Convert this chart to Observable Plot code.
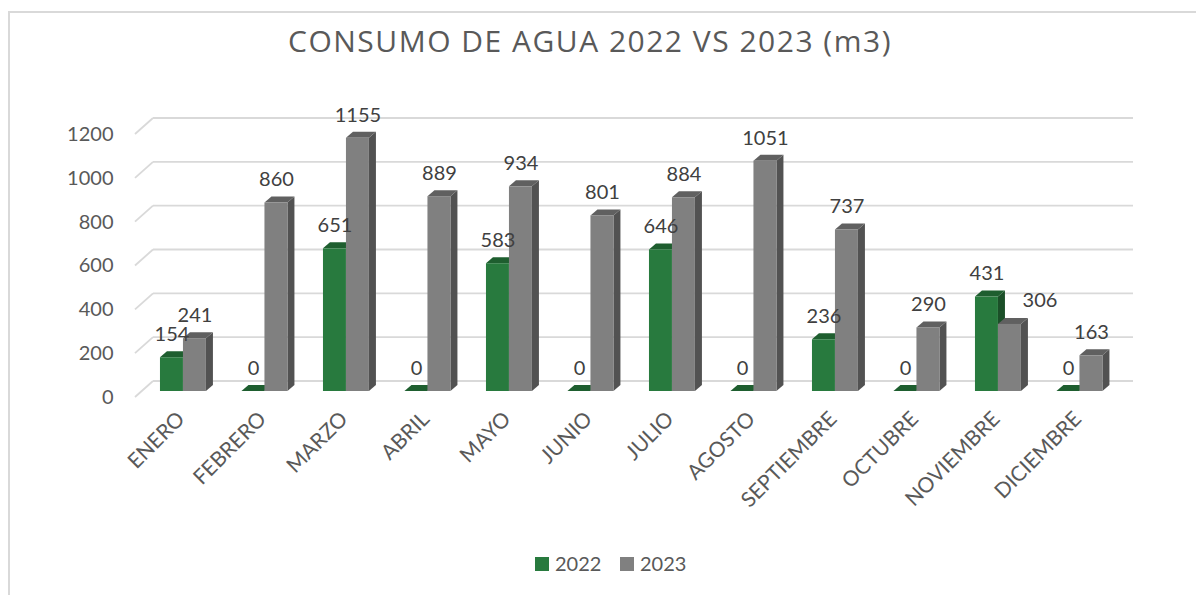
<!DOCTYPE html>
<html>
<head>
<meta charset="utf-8">
<script src="https://cdn.jsdelivr.net/npm/d3@7"></script>
<script src="https://cdn.jsdelivr.net/npm/@observablehq/plot@0.6"></script>
<style>
  body { margin: 0; background: #fff; font-family: Lato, "Open Sans", sans-serif; }
  #frame { position: absolute; left: 8px; top: 11px; width: 1300px; height: 700px;
           border-left: 2px solid #d9d9d9; border-top: 2px solid #d9d9d9; }
  #title { position: absolute; left: 0; width: 1180px; top: 20px; text-align: center;
           font-family: "Open Sans", sans-serif; font-size: 30px; letter-spacing: 1.5px;
           color: #595959; white-space: nowrap; }
  #chart { position: absolute; left: 0; top: 70px; }
  .leg { position: absolute; top: 550px; font-size: 20px; color: #595959; line-height: 26px; }
  .sw { position: absolute; width: 14px; height: 14px; top: 557px; }
</style>
</head>
<body>
<div id="frame"></div>
<div id="title">CONSUMO DE AGUA 2022 VS 2023 (m3)</div>
<div id="chart"></div>
<div class="sw" style="left:535px;background:#287a3e"></div>
<div class="leg" style="left:555px">2022</div>
<div class="sw" style="left:620px;background:#808080"></div>
<div class="leg" style="left:640px">2023</div>
<script>
const months = ["ENERO","FEBRERO","MARZO","ABRIL","MAYO","JUNIO","JULIO","AGOSTO","SEPTIEMBRE","OCTUBRE","NOVIEMBRE","DICIEMBRE"];
const years = ["2022","2023"];
const v2022 = [154,0,651,0,583,0,646,0,236,0,431,0];
const v2023 = [241,860,1155,889,934,801,884,1051,737,290,306,163];
const yTicks = [0,200,400,600,800,1000,1200];

const data = [];
months.forEach((m, i) => {
  data.push({month: m, year: "2022", value: v2022[i], other: v2023[i]});
  data.push({month: m, year: "2023", value: v2023[i], other: v2022[i]});
});

const faces = {
  "2022": {front: "#287a3e", top: "#1e5e2f", side: "#1b4f28"},
  "2023": {front: "#808080", top: "#606060", side: "#525252"}
};
const W = 1196, H = 460;
const mL = 140, mR = 78, mT = 58, mB = 139;
const bw = (W - mL - mR) / months.length;   // band width
const barOff = {"2022": bw * 0.245, "2023": bw * 0.245 + bw * 0.282};
const barW = bw * 0.282;
const depthX = 7, depthY = -6;

function grid(index, scales, values, dim) {
  const y = scales.y;
  const g = d3.create("svg:g").attr("stroke", "#d9d9d9").attr("stroke-width", 1.8).attr("fill", "none");
  const x0 = dim.marginLeft, x1 = dim.width - dim.marginRight;
  for (const t of yTicks) {
    const yy = y(t);
    g.append("line").attr("x1", x0 - 5).attr("y1", yy + 6).attr("x2", x0 + 13).attr("y2", yy - 10);
    g.append("line").attr("x1", x0 + 13).attr("y1", yy - 10).attr("x2", x1 + 15).attr("y2", yy - 10);
  }
  return g.node();
}

function bars3d(index, scales) {
  const x = scales.x, y = scales.y;
  const g = d3.create("svg:g");
  for (const d of data) {
    const a = x(d.month) + barOff[d.year];
    const b = a + barW;
    const yt = y(d.value), yb = y(0);
    const c = faces[d.year];
    g.append("polygon")
      .attr("points", [[b, yb], [b + depthX, yb + depthY], [b + depthX, yt + depthY], [b, yt]].join(" "))
      .attr("fill", c.side);
    g.append("polygon")
      .attr("points", [[a, yt], [a + depthX, yt + depthY], [b + depthX, yt + depthY], [b, yt]].join(" "))
      .attr("fill", c.top);
    g.append("rect").attr("x", a).attr("y", yt).attr("width", b - a).attr("height", Math.max(0, yb - yt))
      .attr("fill", c.front);
  }
  return g.node();
}

const labelDx = y => barOff[y] + barW / 2 - bw / 2;
// Excel nudges a 2023 label to the right when the 2022 bar in front of it is taller
const blocked = d => d.year === "2023" && d.other > d.value;

const chart = Plot.plot({
  width: W, height: H,
  marginLeft: mL, marginRight: mR, marginTop: mT, marginBottom: mB,
  style: {fontFamily: "Lato, 'Open Sans', sans-serif", fontSize: "20px", color: "#595959", background: "transparent"},
  x: {type: "band", domain: months, padding: 0, round: false},
  y: {domain: [0, 1200]},
  marks: [
    grid,
    bars3d,
    Plot.axisY({ticks: yTicks, tickFormat: d => String(d), tickSize: 0, tickPadding: 27, dy: 6, label: null}),
    Plot.axisX({tickRotate: -45, tickSize: 0, tickPadding: 24, fontSize: 21, label: null}),
    ...years.map(yr => Plot.text(data.filter(d => d.year === yr && !blocked(d)), {
      x: "month", y: "value", text: d => String(d.value),
      dx: labelDx(yr), dy: -23, fill: "#404040", fontSize: 20
    })),
    Plot.text(data.filter(blocked), {
      x: "month", y: "value", text: d => String(d.value),
      dx: labelDx("2023") + 30, dy: -24, fill: "#404040", fontSize: 20
    })
  ]
});
document.getElementById("chart").appendChild(chart);
</script>
</body>
</html>
